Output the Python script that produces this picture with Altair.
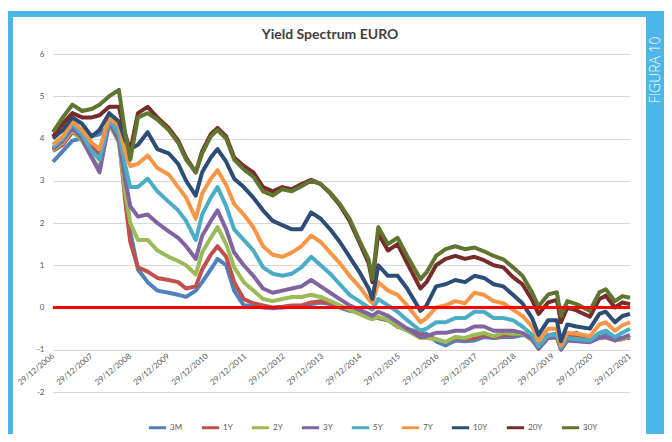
import altair as alt
import pandas as pd

# ---------------- data ----------------
dates = [
    "2006-12-29", "2007-04-01", "2007-07-01", "2007-10-01", "2008-01-01", "2008-03-15",
    "2008-06-15", "2008-09-15", "2008-11-15", "2009-01-01", "2009-03-15", "2009-06-15",
    "2009-09-15", "2010-01-01", "2010-04-01", "2010-06-15", "2010-09-15", "2010-11-15",
    "2011-02-05", "2011-04-10", "2011-07-01", "2011-09-15", "2011-12-15", "2012-03-15",
    "2012-06-15", "2012-09-15", "2012-12-15", "2013-03-15", "2013-06-15", "2013-09-15",
    "2013-12-15", "2014-03-15", "2014-06-15", "2014-09-15", "2014-12-15", "2015-03-15",
    "2015-04-20", "2015-06-15", "2015-09-15", "2015-12-15", "2016-03-15", "2016-07-20",
    "2016-09-15", "2016-12-15", "2017-03-15", "2017-06-15", "2017-09-15", "2017-12-15",
    "2018-03-15", "2018-06-15", "2018-09-15", "2018-12-15", "2019-03-15", "2019-06-15",
    "2019-08-15", "2019-11-15", "2020-02-05", "2020-03-15", "2020-05-15", "2020-08-10",
    "2020-12-15", "2021-03-15", "2021-05-15", "2021-08-10", "2021-10-20", "2021-12-31",
]

y_3m = [3.45, 3.7, 3.95, 4.0, 4.05, 4.1, 4.3, 4.3, 3.0, 1.8,
        0.9, 0.6, 0.4, 0.35, 0.3, 0.25, 0.4, 0.6, 0.9, 1.15,
        1.0, 0.4, 0.05, 0.05, 0.0, -0.02, 0.0, 0.02, 0.02, 0.08,
        0.12, 0.08, 0.0, -0.08, -0.12, -0.22, -0.25, -0.25, -0.3, -0.45,
        -0.5, -0.6, -0.62, -0.8, -0.9, -0.78, -0.8, -0.78, -0.7, -0.72,
        -0.7, -0.7, -0.65, -0.68, -0.78, -0.65, -0.62, -0.72, -0.65, -0.6,
        -0.75, -0.7, -0.65, -0.72, -0.72, -0.72]
y_1y = [3.7, 3.85, 4.15, 4.0, 3.8, 3.6, 4.4, 4.0, 2.5, 1.55,
        0.95, 0.85, 0.7, 0.65, 0.6, 0.45, 0.5, 0.9, 1.25, 1.45,
        1.2, 0.6, 0.2, 0.1, 0.05, 0.0, 0.02, 0.05, 0.05, 0.12,
        0.15, 0.1, 0.02, -0.05, -0.12, -0.22, -0.25, -0.25, -0.3, -0.45,
        -0.52, -0.65, -0.68, -0.75, -0.82, -0.72, -0.75, -0.72, -0.65, -0.7,
        -0.65, -0.65, -0.62, -0.72, -0.85, -0.68, -0.68, -0.8, -0.68, -0.7,
        -0.78, -0.72, -0.7, -0.75, -0.75, -0.7]
y_2y = [3.72, 3.9, 4.2, 3.95, 3.55, 3.3, 4.35, 3.9, 2.7, 2.0,
        1.6, 1.6, 1.35, 1.2, 1.1, 1.0, 0.78, 1.3, 1.65, 1.9,
        1.5, 0.95, 0.6, 0.4, 0.2, 0.15, 0.2, 0.25, 0.25, 0.3,
        0.25, 0.15, 0.05, -0.05, -0.15, -0.25, -0.28, -0.22, -0.3, -0.45,
        -0.55, -0.72, -0.72, -0.75, -0.82, -0.7, -0.72, -0.65, -0.6, -0.68,
        -0.6, -0.62, -0.62, -0.78, -0.95, -0.72, -0.72, -0.98, -0.75, -0.75,
        -0.8, -0.72, -0.7, -0.78, -0.75, -0.68]
y_3y = [3.75, 3.95, 4.25, 4.0, 3.55, 3.2, 4.4, 3.95, 3.0, 2.4,
        2.15, 2.2, 2.0, 1.8, 1.65, 1.45, 1.15, 1.7, 2.05, 2.3,
        1.85, 1.3, 1.0, 0.75, 0.45, 0.35, 0.4, 0.45, 0.5, 0.65,
        0.5, 0.35, 0.2, 0.05, -0.05, -0.15, -0.2, -0.1, -0.2, -0.35,
        -0.5, -0.7, -0.68, -0.6, -0.6, -0.55, -0.55, -0.45, -0.45, -0.55,
        -0.55, -0.55, -0.6, -0.75, -0.98, -0.72, -0.7, -1.0, -0.78, -0.8,
        -0.82, -0.72, -0.7, -0.78, -0.72, -0.65]
y_5y = [3.8, 4.0, 4.35, 4.1, 3.7, 3.5, 4.45, 4.1, 3.35, 2.85,
        2.85, 3.05, 2.75, 2.5, 2.3, 2.05, 1.6, 2.2, 2.6, 2.85,
        2.4, 1.85, 1.6, 1.35, 0.95, 0.8, 0.75, 0.8, 0.95, 1.2,
        1.0, 0.8, 0.55, 0.3, 0.15, 0.0, -0.05, 0.2, 0.05, -0.1,
        -0.3, -0.55, -0.5, -0.35, -0.35, -0.25, -0.25, -0.1, -0.1, -0.25,
        -0.25, -0.3, -0.45, -0.65, -0.92, -0.65, -0.65, -0.95, -0.72, -0.75,
        -0.78, -0.6, -0.55, -0.7, -0.6, -0.5]
y_7y = [3.85, 4.05, 4.4, 4.2, 3.9, 3.75, 4.5, 4.3, 3.65, 3.35,
        3.4, 3.6, 3.3, 3.15, 2.85, 2.6, 2.1, 2.7, 3.05, 3.25,
        2.9, 2.45, 2.2, 1.9, 1.45, 1.25, 1.2, 1.3, 1.45, 1.7,
        1.55, 1.3, 1.05, 0.75, 0.5, 0.2, 0.1, 0.6, 0.4, 0.3,
        0.05, -0.35, -0.25, 0.0, 0.05, 0.15, 0.1, 0.35, 0.3, 0.15,
        0.1, -0.05, -0.2, -0.45, -0.8, -0.5, -0.5, -0.9, -0.6, -0.62,
        -0.68, -0.4, -0.35, -0.55, -0.42, -0.35]
y_10y = [4.0, 4.2, 4.5, 4.35, 4.05, 4.2, 4.6, 4.4, 3.95, 3.75,
         3.85, 4.15, 3.75, 3.65, 3.4, 3.0, 2.65, 3.2, 3.55, 3.75,
         3.45, 3.05, 2.85, 2.6, 2.3, 2.05, 1.95, 1.85, 1.85, 2.25,
         2.1, 1.85, 1.55, 1.2, 0.85, 0.45, 0.2, 1.0, 0.75, 0.75,
         0.45, -0.08, 0.05, 0.5, 0.55, 0.65, 0.6, 0.75, 0.7, 0.55,
         0.5, 0.3, 0.1, -0.25, -0.65, -0.3, -0.3, -0.8, -0.4, -0.45,
         -0.5, -0.15, -0.1, -0.35, -0.2, -0.15]
y_20y = [4.05, 4.35, 4.6, 4.5, 4.5, 4.55, 4.75, 4.75, 4.1, 3.7,
         4.6, 4.75, 4.5, 4.25, 3.95, 3.55, 3.2, 3.7, 4.1, 4.25,
         4.05, 3.55, 3.35, 3.2, 2.85, 2.75, 2.85, 2.8, 2.92, 3.02,
         2.92, 2.7, 2.42, 2.05, 1.55, 1.05, 0.6, 1.75, 1.35, 1.5,
         1.05, 0.45, 0.6, 1.0, 1.15, 1.22, 1.15, 1.2, 1.12, 1.0,
         0.95, 0.72, 0.55, 0.18, -0.15, 0.12, 0.18, -0.35, 0.0, -0.07,
         -0.22, 0.2, 0.28, 0.0, 0.12, 0.08]
y_30y = [4.15, 4.5, 4.8, 4.65, 4.7, 4.8, 5.0, 5.15, 4.1, 3.5,
         4.5, 4.6, 4.45, 4.2, 3.9, 3.5, 3.2, 3.65, 4.05, 4.2,
         4.0, 3.5, 3.27, 3.1, 2.75, 2.65, 2.8, 2.75, 2.87, 3.0,
         2.92, 2.72, 2.45, 2.1, 1.6, 1.14, 0.67, 1.9, 1.5, 1.65,
         1.22, 0.67, 0.83, 1.22, 1.38, 1.45, 1.38, 1.42, 1.33, 1.22,
         1.14, 0.95, 0.75, 0.36, 0.03, 0.31, 0.36, -0.2, 0.15, 0.08,
         -0.08, 0.36, 0.43, 0.15, 0.27, 0.23]

series_names = ["3M", "1Y", "2Y", "3Y", "5Y", "7Y", "10Y", "20Y", "30Y"]
series_values = [y_3m, y_1y, y_2y, y_3y, y_5y, y_7y, y_10y, y_20y, y_30y]
series_colors = ["#4F81BD", "#C0504D", "#9BBB59", "#8064A2", "#4BACC6",
                 "#F79646", "#2C4D75", "#772C2A", "#5F7530"]
y_ticks = [-2, -1, 0, 1, 2, 3, 4, 5, 6]
x_tick_years = list(range(2006, 2022))
chart_title = "Yield Spectrum EURO"
side_label = "FIGURA 10"

# ---------------- build table ----------------
rows = []
for k, (name, vals) in enumerate(zip(series_names, series_values)):
    for d, v in zip(dates, vals):
        rows.append({"date": d, "series": name, "value": v, "k": k})
df = pd.DataFrame(rows)

# ---------------- layout ----------------
W, H = 577, 338
PAD_L, PAD_T, PAD_R, PAD_B = 45, 46, 34, 42
BLUE = "#4DB6E8"
LABEL = "#595959"
FONT = "Lato"

x_enc = alt.X(
    "date:T",
    scale=alt.Scale(type="utc",
                    domain=[alt.DateTime(year=2006, month=12, date=29, utc=True),
                            alt.DateTime(year=2021, month=12, date=31, utc=True)]),
    axis=alt.Axis(
        values=[alt.DateTime(year=y, month=12, date=29, utc=True) for y in x_tick_years],
        labelExpr="utcFormat(datum.value, '%d/%m/%Y')",
        labelAngle=320, labelAlign="right", labelBaseline="middle",
        labelFontSize=8, labelColor=LABEL, labelFont=FONT, labelPadding=5,
        labelOverlap=False, domain=False, ticks=False, grid=False,
        offset=-42, title=None),
)
y_enc = alt.Y(
    "value:Q",
    scale=alt.Scale(domain=[-2, 6], nice=False, zero=False),
    axis=alt.Axis(values=y_ticks, labelExpr="'' + datum.value", grid=True,
                  gridColor="#D9D9D9", gridWidth=1, domain=False, ticks=False,
                  labelFontSize=8, labelColor=LABEL, labelFont=FONT,
                  labelPadding=9, title=None),
)

blank = alt.Data(values=[{}])

def band(x1, x2, y1, y2, color):
    return alt.Chart(blank).mark_rect(color=color).encode(
        x=alt.value(x1), x2=alt.value(x2), y=alt.value(y1), y2=alt.value(y2))

svg_w = PAD_L + W + PAD_R
svg_h = PAD_T + H + PAD_B
left_frame = band(-PAD_L, -PAD_L + 5, -PAD_T + 3, svg_h - PAD_T, BLUE)
top_frame = band(-PAD_L, 593, -PAD_T + 3, -PAD_T + 9, BLUE)
right_frame = band(593, svg_w - PAD_L, -PAD_T + 3, svg_h - PAD_T, BLUE)

lines = alt.Chart(df).mark_line(strokeWidth=4, strokeJoin="round").encode(
    x=x_enc,
    y=y_enc,
    color=alt.Color(
        "series:N",
        sort=series_names,
        scale=alt.Scale(domain=series_names, range=series_colors),
        legend=alt.Legend(orient="none", legendX=94, legendY=363,
                          direction="horizontal", title=None,
                          symbolType="stroke", symbolStrokeWidth=3,
                          symbolSize=300, labelFontSize=8, labelColor=LABEL,
                          labelFont=FONT, columnPadding=12, labelOffset=2,
                          padding=0),
    ),
    order=alt.Order("date:T"),
)

zero_line = alt.Chart(blank).mark_rule(color="#FF0000", strokeWidth=3).encode(
    y=alt.datum(0))

title_text = alt.Chart(blank).mark_text(
    fontSize=14, fontWeight="bold", font=FONT, color="#404040",
    align="center", baseline="middle").encode(
    x=alt.value(277), y=alt.value(-19), text=alt.value(chart_title))

side_text = alt.Chart(blank).mark_text(
    angle=270, color="white", fontSize=14, font="Open Sans", fontWeight=300,
    align="center", baseline="middle").encode(
    x=alt.value(603), y=alt.value(16), text=alt.value(side_label))

chart = alt.layer(
    left_frame, top_frame, right_frame, lines, zero_line, title_text, side_text
).properties(
    width=W, height=H,
    autosize=alt.AutoSizeParams(type="none"),
    padding={"left": PAD_L, "top": PAD_T, "right": PAD_R, "bottom": PAD_B},
    background="white",
).configure_view(stroke=None)

chart.save("out.html", embed_options={"renderer": "svg", "actions": False})
